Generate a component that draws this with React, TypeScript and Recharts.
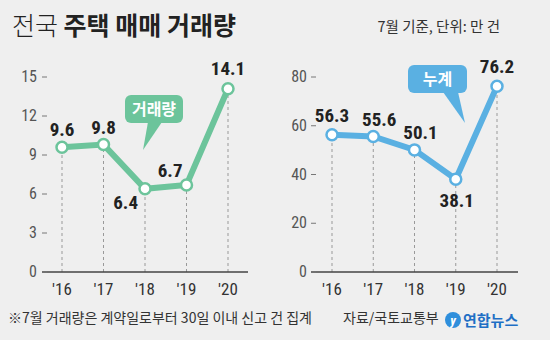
import React from 'react';
import { LineChart, Line, XAxis, YAxis, ReferenceLine, LabelList } from 'recharts';

const YEARS = ["'16", "'17", "'18", "'19", "'20"];
const MONTHLY = [9.6, 9.8, 6.4, 6.7, 14.1];
const CUMULATIVE = [56.3, 55.6, 50.1, 38.1, 76.2];
const MONTHLY_TICKS = [0, 3, 6, 9, 12, 15];
const CUMULATIVE_TICKS = [0, 20, 40, 60, 80];

const GREEN = '#6cc49b';
const BLUE = '#5ab0e2';
const BG = '#efefef';
const NUM_FONT = "'Liberation Sans Narrow', 'Roboto Condensed', 'Liberation Sans', sans-serif";
const KR_FONT = "'Noto Sans CJK KR', 'Noto Sans', sans-serif";

// label placement per point: [dx, dy, anchor]
const MONTHLY_LABEL_POS: [number, number, string][] = [
  [0, -11, 'middle'], [0, -11, 'middle'], [-7, 20, 'end'], [-4, -8, 'end'], [0, -14, 'middle'],
];
const CUMULATIVE_LABEL_POS: [number, number, string][] = [
  [0, -13, 'middle'], [6, -10, 'middle'], [6, -11, 'middle'], [1, 28, 'middle'], [0, -13, 'middle'],
];

const monthlyData = YEARS.map((year, i) => ({ year, value: MONTHLY[i] }));
const cumulativeData = YEARS.map((year, i) => ({ year, value: CUMULATIVE[i] }));

const makeTick = (gap: number) => (props: any) => {
  const { x, y, payload } = props;
  return (
    <g>
      <text x={x} y={y} dy={5} textAnchor="end" fill="#555" fontSize={16} fontFamily={NUM_FONT}>
        {payload.value}
      </text>
      <line x1={x + gap} x2={x + gap + 5} y1={y} y2={y} stroke="#777" strokeWidth={1} />
    </g>
  );
};

const makeLabel = (pos: [number, number, string][]) => (props: any) => {
  const { x, y, value, index } = props;
  const [dx, dy, anchor] = pos[index];
  return (
    <text x={x + dx} y={y + dy} textAnchor={anchor as any} fill="#222" fontSize={19}
      fontWeight="bold" fontFamily={NUM_FONT}>
      {value}
    </text>
  );
};

function Panel({ data, color, ticks, yAxisWidth, gap, rightMargin, pad, labelPos }: any) {
  return (
    <LineChart width={275} height={340} data={data}
      margin={{ top: 77, right: rightMargin, bottom: 38, left: 0 }}>
      <XAxis dataKey="year" height={30} padding={{ left: pad, right: pad }}
        axisLine={{ stroke: '#444', strokeWidth: 1.3 }} tickLine={false} tickSize={0} tickMargin={11}
        tick={{ fill: '#333', fontSize: 17, fontFamily: NUM_FONT }} />
      <YAxis width={yAxisWidth} domain={[0, ticks[ticks.length - 1]]} ticks={ticks}
        axisLine={false} tickLine={false} tickSize={0} tickMargin={gap}
        tick={makeTick(gap)} />
      {data.map((d: any) => (
        <ReferenceLine key={d.year} zIndex={-50}
          segment={[{ x: d.year, y: 0 }, { x: d.year, y: d.value }]}
          stroke="#999" strokeDasharray="3 3" />
      ))}
      <Line dataKey="value" stroke={color} strokeWidth={6} isAnimationActive={false}
        dot={{ r: 5.5, fill: '#fff', stroke: color, strokeWidth: 2.5 }} activeDot={false}>
        <LabelList dataKey="value" content={makeLabel(labelPos)} />
      </Line>
    </LineChart>
  );
}

export default function App() {
  return (
    <div style={{ position: 'absolute', left: 0, top: 0, width: 550, height: 340, background: BG, overflow: 'hidden', fontFamily: KR_FONT }}>
      <div style={{ position: 'absolute', left: 12, top: 11, fontSize: 25, lineHeight: 1.1, color: '#222', whiteSpace: 'nowrap' }}>
        <span style={{ fontWeight: 300 }}>전국 </span>
        <span style={{ fontWeight: 700 }}>주택 매매 거래량</span>
      </div>
      <div style={{ position: 'absolute', right: 50, top: 15, fontSize: 14.5, color: '#333', whiteSpace: 'nowrap' }}>
        7월 기준, 단위: 만 건
      </div>

      <div style={{ position: 'absolute', left: 0, top: 0 }}>
        <Panel data={monthlyData} color={GREEN} ticks={MONTHLY_TICKS} yAxisWidth={42} gap={5}
          rightMargin={27} pad={20} labelPos={MONTHLY_LABEL_POS} />
      </div>
      <div style={{ position: 'absolute', left: 275, top: 0 }}>
        <Panel data={cumulativeData} color={BLUE} ticks={CUMULATIVE_TICKS} yAxisWidth={36} gap={4}
          rightMargin={32} pad={21} labelPos={CUMULATIVE_LABEL_POS} />
      </div>

      <svg width={550} height={340} style={{ position: 'absolute', left: 0, top: 0, pointerEvents: 'none' }}>
        <rect x={125} y={95} width={58} height={28} rx={6} fill={GREEN} />
        <polygon points="148,122 162,122 143,150" fill={GREEN} />
        <text x={154} y={115} textAnchor="middle" fill="#fff" fontSize={16} fontWeight="bold" fontFamily={KR_FONT}>거래량</text>
        <rect x={408} y={65} width={59} height={28} rx={6} fill={BLUE} />
        <polygon points="443,92 458,92 465,123" fill={BLUE} />
        <text x={437.5} y={85} textAnchor="middle" fill="#fff" fontSize={16} fontWeight="bold" fontFamily={KR_FONT}>누계</text>

        <circle cx={453} cy={320} r={8} fill="#2f8fdc" />
        <text x={453} y={325} textAnchor="middle" fill="#fff" fontSize={13} fontStyle="italic" fontWeight="bold" fontFamily={NUM_FONT}>y</text>
        <text x={463} y={326} fill="#1f6fc5" fontSize={15} fontWeight="bold" fontFamily={KR_FONT}>연합뉴스</text>
      </svg>

      <div style={{ position: 'absolute', left: 8, top: 307, fontSize: 14, color: '#333', whiteSpace: 'nowrap' }}>
        ※7월 거래량은 계약일로부터 30일 이내 신고 건 집계
      </div>
      <div style={{ position: 'absolute', left: 343, top: 307, fontSize: 14, color: '#333', whiteSpace: 'nowrap' }}>
        자료/국토교통부
      </div>
    </div>
  );
}
